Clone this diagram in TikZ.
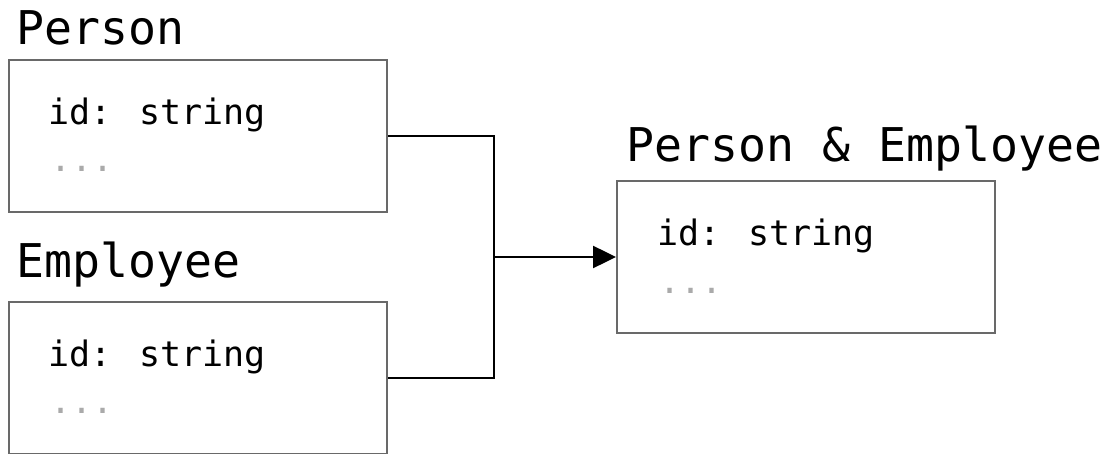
\documentclass[tikz,border=0pt]{standalone}
\usepackage{fontspec}
\newfontfamily\dmono{DejaVu Sans Mono}
\usetikzlibrary{arrows.meta}
\definecolor{framegray}{RGB}{105,105,105}
\definecolor{dotgray}{RGB}{170,170,170}
\tikzset{
  typebox/.style={draw=framegray, line width=2pt, anchor=north west, minimum width=378pt, minimum height=152pt, inner sep=0pt},
  title/.style={anchor=base west, inner sep=0pt, font=\dmono\fontsize{46.5}{50}\selectfont},
  field/.style={anchor=base west, inner sep=0pt, font=\dmono\fontsize{35}{40}\selectfont},
  more/.style={field, text=dotgray},
  link/.style={line width=2.5pt, draw=black},
}
\begin{document}
\begin{tikzpicture}[x=1pt,y=-1pt]
\useasboundingbox (0,0) rectangle (1115,454);
% Person
\node[title] (tperson) at (16,45) {Person};
\node[typebox] (person) at (8,59) {};
\node[field] (fperson) at (48,125) {id: string};
\node[more] (mperson) at (50,172) {...};
% Employee
\node[title] (temp) at (16,277) {Employee};
\node[typebox] (emp) at (8,301) {};
\node[field] (femp) at (48,366) {id: string};
\node[more] (memp) at (50,413) {...};
% Person & Employee
\node[title] (tpe) at (626,162) {Person \& Employee};
\node[typebox] (pe) at (616,180) {};
\node[field] (fpe) at (657,245) {id: string};
\node[more] (mpe) at (659,293) {...};
% connectors
\coordinate (j) at ([xshift=-122pt]pe.west);
\draw[link] (person.east) -| (j);
\draw[link] (emp.east) -| (j);
\draw[link, -{Triangle[length=23pt,width=22pt]}] (j) -- (pe.west);
\end{tikzpicture}
\end{document}
